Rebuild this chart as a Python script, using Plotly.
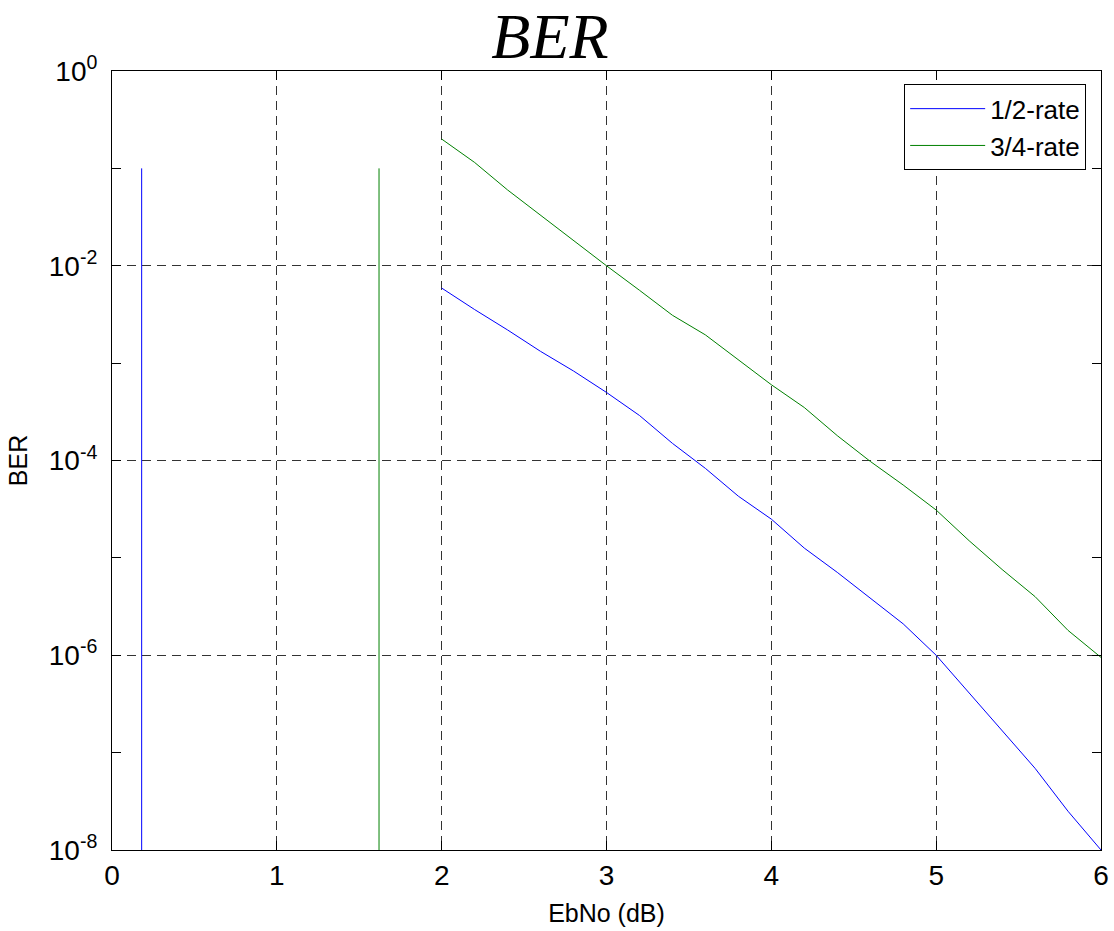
import plotly.graph_objects as go

# Eb/No grid (dB) for the simulated curves
ebno_db = [2.0, 2.2, 2.4, 2.6, 2.8, 3.0, 3.2, 3.4, 3.6, 3.8, 4.0,
           4.2, 4.4, 4.6, 4.8, 5.0, 5.2, 5.4, 5.6, 5.8, 6.0]

# Bit error rate, rate-1/2 code
ber_half = [5.9e-3, 3.55e-3, 2.19e-3, 1.32e-3, 8.3e-4, 5.0e-4, 2.9e-4,
            1.5e-4, 8.3e-5, 4.3e-5, 2.5e-5, 1.26e-5, 7.1e-6, 3.9e-6,
            2.1e-6, 1.0e-6, 4.1e-7, 1.7e-7, 6.9e-8, 2.5e-8, 1.0e-8]

# Bit error rate, rate-3/4 code
ber_three_quarter = [0.20, 0.115, 0.060, 0.033, 0.018, 0.010, 5.6e-3,
                     3.1e-3, 1.95e-3, 1.07e-3, 6.0e-4, 3.5e-4, 1.8e-4,
                     9.8e-5, 5.6e-5, 3.1e-5, 1.5e-5, 7.6e-6, 4.0e-6,
                     1.8e-6, 9.5e-7]

# Capacity limit markers (dB) and their vertical extent
limit_half_db = 0.18
limit_three_quarter_db = 1.62
limit_ber_span = [1e-8, 1e-1]

series_names = ["1/2-rate", "3/4-rate"]
x_ticks = [0, 1, 2, 3, 4, 5, 6]
y_ticks = [1e-8, 1e-6, 1e-4, 1e-2, 1e0]
y_ticktext = ["10<sup>-8</sup>", "10<sup>-6</sup>", "10<sup>-4</sup>",
              "10<sup>-2</sup>", "10<sup>0</sup>"]
y_minor = [1e-7, 1e-5, 1e-3, 1e-1]

BLUE = "#0000ff"
GREEN = "#008000"
SANS = "Liberation Sans, Arial, sans-serif"

fig = go.Figure()

fig.add_trace(go.Scatter(x=ebno_db, y=ber_half, mode="lines", name=series_names[0],
                         line=dict(color=BLUE, width=1)))
fig.add_trace(go.Scatter(x=ebno_db, y=ber_three_quarter, mode="lines", name=series_names[1],
                         line=dict(color=GREEN, width=1)))
fig.add_trace(go.Scatter(x=[limit_half_db, limit_half_db], y=limit_ber_span, mode="lines",
                         line=dict(color=BLUE, width=1), showlegend=False))
fig.add_trace(go.Scatter(x=[limit_three_quarter_db, limit_three_quarter_db], y=limit_ber_span,
                         mode="lines", line=dict(color=GREEN, width=1), showlegend=False))

axis_common = dict(
    showline=True, linecolor="black", linewidth=1, mirror="ticks",
    ticks="inside", ticklen=9, tickcolor="black", tickwidth=1,
    showgrid=True, gridcolor="#333333", gridwidth=1, griddash="9px,6px",
    zeroline=False, automargin=False,
    tickfont=dict(family=SANS, size=28, color="black"),
)

fig.update_xaxes(
    **axis_common,
    range=[0, 6], tickvals=x_ticks,
    title=dict(text="EbNo (dB)", font=dict(family=SANS, size=25, color="black"), standoff=14),
)
fig.update_yaxes(
    **axis_common,
    type="log", range=[-8, 0], tickvals=y_ticks, ticktext=y_ticktext,
    ticklabelstandoff=8,
    minor=dict(tickvals=y_minor, ticks="inside", ticklen=9, tickcolor="black", showgrid=False),
    title=dict(text="BER", font=dict(family=SANS, size=25, color="black"), standoff=14),
)

fig.update_layout(
    width=1114, height=931,
    margin=dict(l=112, r=13, t=71, b=81),
    paper_bgcolor="white", plot_bgcolor="white",
    title=dict(text="<i>BER</i>", x=550 / 1114, xanchor="center",
               y=1 - 36 / 931, yanchor="middle",
               font=dict(family="Liberation Serif, Times New Roman, serif", size=64, color="black")),
    legend=dict(x=0.985, y=0.983, xanchor="right", yanchor="top",
                bgcolor="white", bordercolor="black", borderwidth=1,
                font=dict(family=SANS, size=26, color="black"),
                itemwidth=75, tracegroupgap=0),
    showlegend=True,
)

fig.write_html("out.html")
